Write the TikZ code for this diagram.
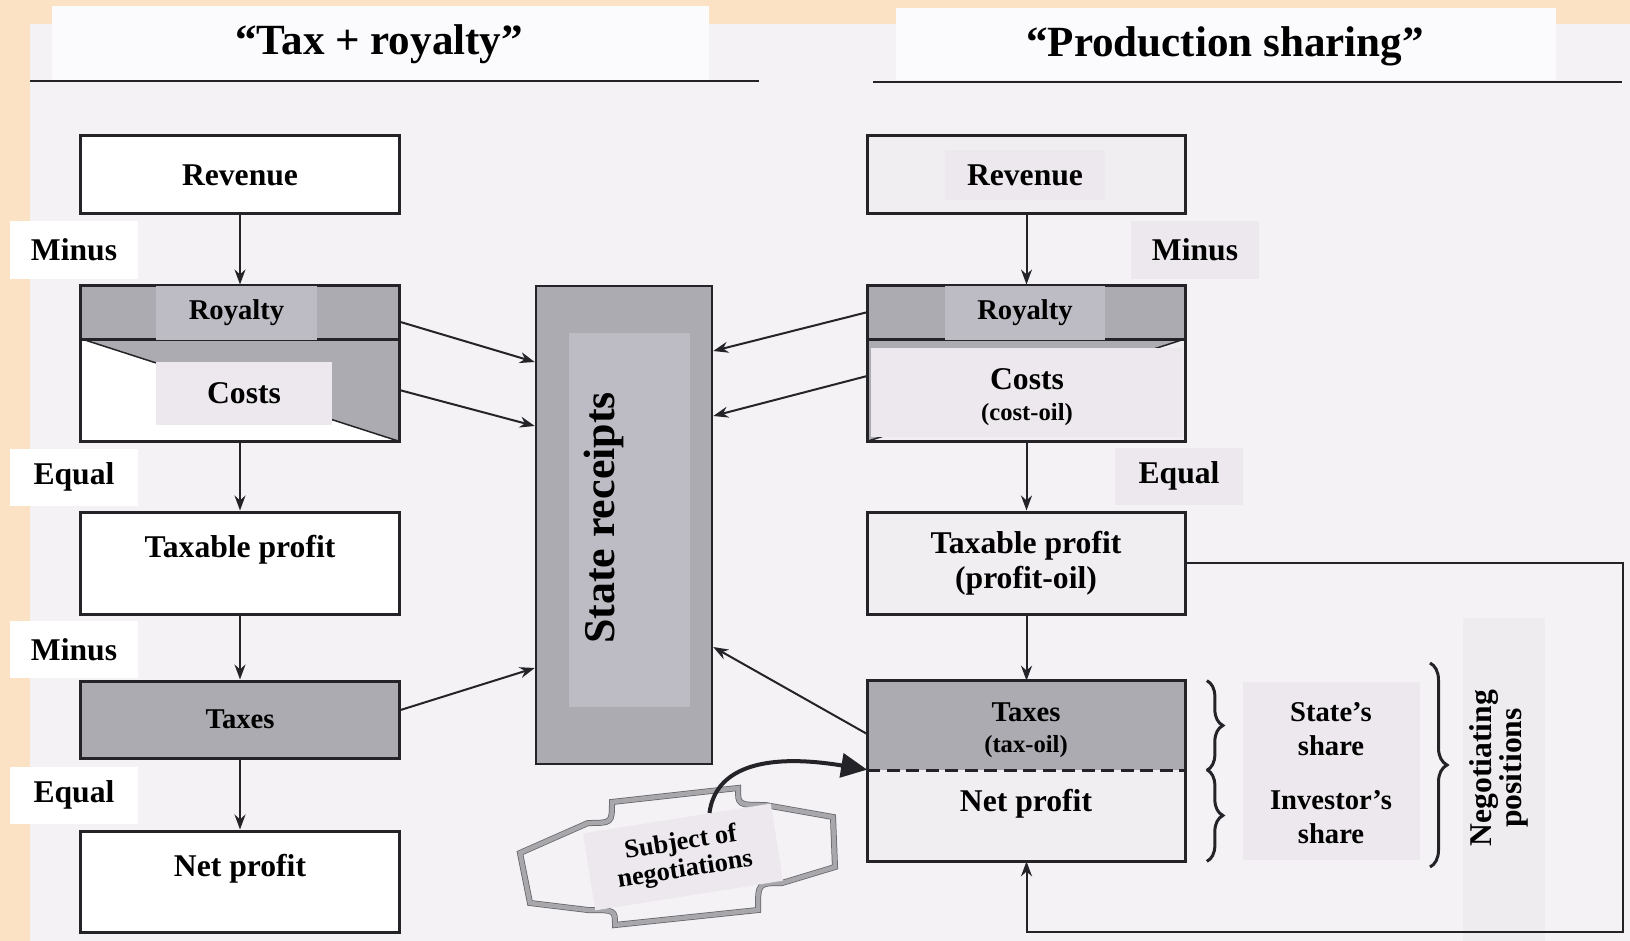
\documentclass[tikz,border=0pt]{standalone}
\usepackage{fontspec}
\setmainfont{Liberation Serif}
\usetikzlibrary{arrows.meta,decorations.pathreplacing}
\definecolor{peach}{RGB}{252,226,197}
\definecolor{page}{RGB}{244,242,245}
\definecolor{headwhite}{RGB}{251,250,252}
\definecolor{boxgray}{RGB}{172,171,177}
\definecolor{labgray}{RGB}{189,187,195}
\definecolor{pale}{RGB}{241,238,242}
\definecolor{palelab}{RGB}{236,232,237}
\definecolor{subjgray}{RGB}{168,167,172}
\definecolor{ink}{RGB}{35,35,40}
\begin{document}
\begin{tikzpicture}[x=0.2mm, y=-0.2mm,
  boxline/.style={draw=ink, line width=0.6mm},
  fillbox/.style={inner sep=0, minimum width=63.6mm},
  box/.style={fillbox, boxline, font=\bfseries\fontsize{18}{21}\selectfont},
  txt/.style={inner sep=0, font=\bfseries\fontsize{18}{21}\selectfont},
  smalltxt/.style={inner sep=0, font=\bfseries\fontsize{16.3}{19.5}\selectfont},
  subtxt/.style={inner sep=0, font=\bfseries\fontsize{14}{16}\selectfont},
  tag/.style={txt, minimum width=25.6mm, minimum height=11.4mm},
  headtxt/.style={inner sep=0, font=\bfseries\fontsize{24.5}{28}\selectfont},
  arr/.style={ink, line width=0.4mm, -{Stealth[length=3mm,width=2.2mm]}},
  bigarr/.style={ink, line width=0.8mm, -{Triangle[length=5.2mm,width=4.8mm]}},
  brc/.style={ink, line width=0.6mm, decorate, decoration={brace, amplitude=3.2mm}}
]
\useasboundingbox (0,0) rectangle (1630,941);
\fill[peach] (0,0) rectangle (1630,941);
\fill[page] (30,24) rectangle (1630,941);
\fill[headwhite] (52,6) rectangle (709,80);
\fill[headwhite] (896,8) rectangle (1556,80);
\draw[ink, line width=0.5mm] (30,81) -- (759,81);
\draw[ink, line width=0.5mm] (873,82) -- (1622,82);
\node[headtxt] (ttax) at (379,44) {“Tax + royalty”};
\node[headtxt] (tprod) at (1225,46) {“Production sharing”};

\node[box, fill=white, minimum height=15.6mm] (lrev) at (240,175) {Revenue};
\node[fillbox, fill=white, minimum height=20.4mm] (lcost) at (240,390) {};
\fill[boxgray] (lcost.north west) -- (lcost.north east) -- (lcost.south east) -- cycle;
\draw[ink, line width=0.3mm] (lcost.north west) -- (lcost.south east);
\node[txt, fill=palelab, minimum width=35.2mm, minimum height=12.6mm] (lcostl) at (244,393) {Costs};
\draw[boxline] (lcost.north west) rectangle (lcost.south east);
\node[box, fill=boxgray, minimum height=10.6mm] (lroy) at (240,312.5) {};
\node[smalltxt, fill=labgray, minimum width=32.2mm, minimum height=10.6mm] (lroyl) at (236.5,313) {Royalty};
\node[box, fill=white, minimum height=20.4mm] (ltaxable) at (240,563) {};
\node[txt] (ltaxablet) at (240,550) {Taxable profit};
\node[box, fill=boxgray, minimum height=15.4mm, font=\bfseries\fontsize{16.3}{19.5}\selectfont] (ltaxes) at (240,719.5) {Taxes};
\node[box, fill=white, minimum height=20.2mm] (lnet) at (240,881.5) {};
\node[txt] (lnett) at (240,869) {Net profit};
\node[tag, fill=white] (lminus) at (74,250) {Minus};
\node[tag, fill=white] (lequal) at (74,477) {Equal};
\node[tag, fill=white] (lminusb) at (74,649.5) {Minus};
\node[tag, fill=white] (lequalb) at (74,795) {Equal};
\draw[arr] (lrev) -- (lroy);
\draw[arr] (lcost) -- (ltaxable);
\draw[arr] (ltaxable) -- (ltaxes);
\draw[arr] (ltaxes) -- (lnet);

\node[boxline, line width=0.5mm, fill=boxgray, inner sep=0, minimum width=35.2mm, minimum height=95.6mm] (sr) at (624,525) {};
\node[fill=labgray, inner sep=0, minimum width=24.2mm, minimum height=74.8mm] (srl) at (629.5,520) {};
\node[rotate=90, inner sep=0, font=\bfseries\fontsize{25}{30}\selectfont] (srt) at (604,518) {State receipts};
\draw[arr] ([yshift=-1.9mm]lroy.east) -- ([yshift=32.6mm]sr.west);
\draw[arr] (lcost.east) -- ([yshift=19.8mm]sr.west);
\draw[arr] ([yshift=1.9mm]ltaxes.east) -- ([yshift=-28.6mm]sr.west);

\node[box, fill=pale, minimum height=15.6mm] (rrev) at (1026.5,175) {};
\node[txt, fill=palelab, minimum width=32mm, minimum height=10mm] (rrevl) at (1025,175) {Revenue};
\node[fillbox, fill=pale, minimum height=20.4mm] (rcost) at (1026.5,390) {};
\fill[boxgray] (rcost.north west) -- (rcost.north east) -- (rcost.south west) -- cycle;
\draw[ink, line width=0.3mm] (rcost.north east) -- (rcost.south west);
\node[fill=palelab, inner sep=0, minimum width=62.4mm, minimum height=17.8mm] (rcostl) at (1027,392.5) {};
\node[txt] (rcostt) at (1027,379) {Costs};
\node[subtxt] (rcostsub) at (1027,415) {(cost-oil)};
\draw[boxline] (rcost.north west) rectangle (rcost.south east);
\node[box, fill=boxgray, minimum height=10.6mm] (rroy) at (1026.5,312.5) {};
\node[smalltxt, fill=labgray, minimum width=32mm, minimum height=10.6mm] (rroyl) at (1025,313) {Royalty};
\node[box, fill=pale, minimum height=20.4mm] (rtaxable) at (1026.5,563) {};
\node[txt] (rtaxablet) at (1026,546) {Taxable profit};
\node[txt] (rtaxablesub) at (1026,581) {(profit-oil)};
\node[fillbox, fill=boxgray, minimum height=17.8mm] (rtaxes) at (1026.5,725.5) {};
\node[fillbox, fill=pale, minimum height=18.2mm] (rnet) at (1026.5,815.5) {};
\draw[boxline] (rtaxes.north west) rectangle (rnet.south east);
\draw[ink, line width=0.5mm, dash pattern=on 2.6mm off 1.3mm] (rtaxes.south west) -- (rtaxes.south east);
\node[smalltxt] (rtaxest) at (1026,712) {Taxes};
\node[subtxt] (rtaxessub) at (1026,747) {(tax-oil)};
\node[txt] (rnett) at (1026,804) {Net profit};
\node[tag, fill=palelab] (rminus) at (1195,250) {Minus};
\node[tag, fill=palelab] (requal) at (1179,476) {Equal};
\draw[arr] (rrev) -- (rroy);
\draw[arr] (rcost) -- (rtaxable);
\draw[arr] (rtaxable) -- (rtaxes);
\draw[arr] (rroy.west) -- ([yshift=34.8mm]sr.east);
\draw[arr] ([yshift=2.8mm]rcost.west) -- ([yshift=21.8mm]sr.east);
\draw[arr] ([yshift=-1.7mm]rtaxes.west) -- ([yshift=-24.4mm]sr.east);

\node[fill=palelab, inner sep=0, minimum width=35.4mm, minimum height=35.6mm] (sharel) at (1331.5,771) {};
\node[smalltxt, align=center] (statet) at (1331,729) {State’s\\share};
\node[smalltxt, align=center] (invt) at (1331,817) {Investor’s\\share};
\draw[brc] ([xshift=4.2mm]rtaxes.north east) -- ([xshift=4.2mm]rtaxes.south east);
\draw[brc] ([xshift=4.2mm]rnet.north east) -- ([xshift=4.2mm]rnet.south east);
\node[fill=palelab!60!page, inner sep=0, minimum width=16.4mm, minimum height=64.6mm] (negl) at (1504,779.5) {};
\coordinate (negtop) at (1430,663);
\coordinate (negbot) at (1430,867);
\draw[brc, decoration={brace, amplitude=3.4mm}] (negtop) -- (negbot);
\node[rotate=90, align=center, inner sep=0, font=\bfseries\fontsize{18}{14.5}\selectfont] (negt) at (1499,768) {Negotiating\\positions};
\coordinate (loopr) at (1623,932);
\draw[arr] (rtaxable.east) -| (loopr) -| (rnet.south);

\draw[ink!70, line width=0.15mm, double=subjgray, double distance=0.9mm, fill=page] (520,853) -- (588,823) .. controls (612,823) .. (612,802) -- (738,788) .. controls (738,805) .. (765,805) -- (833,817) -- (835,867) -- (782,883) .. controls (758,883) .. (758,910) -- (615,925) .. controls (615,910) .. (588,910) -- (530,903) -- cycle;
\node[fill=palelab, rotate=9, inner sep=0, minimum width=38mm, minimum height=15.6mm, align=center, font=\bfseries\fontsize{15}{15.5}\selectfont] (subjl) at (683,857) {Subject of\\negotiations};
\draw[bigarr] (subjl.50) .. controls (715,770) and (760,752) .. (rnet.north west);
\end{tikzpicture}
\end{document}
